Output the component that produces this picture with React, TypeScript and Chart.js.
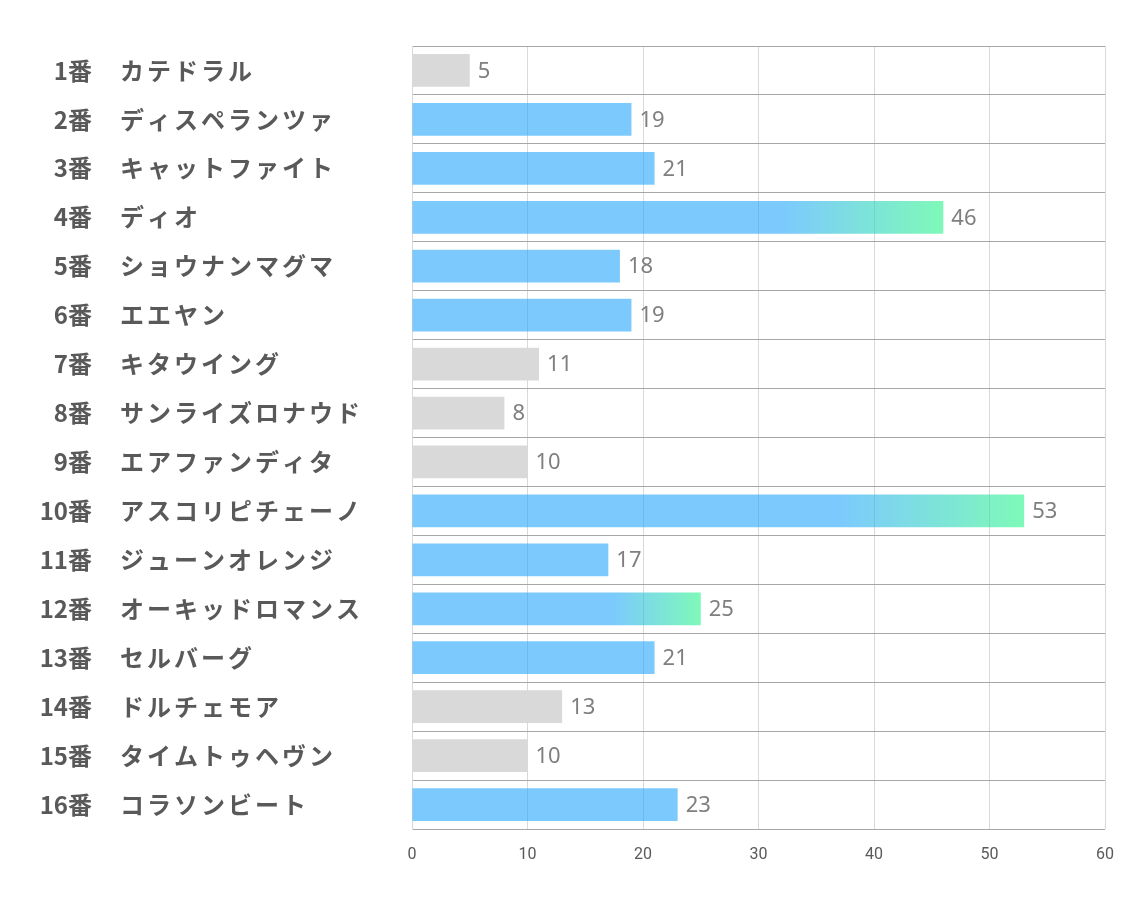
import React, { useEffect, useRef } from "react";
import { Chart, registerables } from "chart.js";

Chart.register(...registerables);

const horseNumbers = [1, 2, 3, 4, 5, 6, 7, 8, 9, 10, 11, 12, 13, 14, 15, 16];
const horseNames = [
  "カテドラル",
  "ディスペランツァ",
  "キャットファイト",
  "ディオ",
  "ショウナンマグマ",
  "エエヤン",
  "キタウイング",
  "サンライズロナウド",
  "エアファンディタ",
  "アスコリピチェーノ",
  "ジューンオレンジ",
  "オーキッドロマンス",
  "セルバーグ",
  "ドルチェモア",
  "タイムトゥヘヴン",
  "コラソンビート",
];
const scores = [5, 19, 21, 46, 18, 19, 11, 8, 10, 53, 17, 25, 21, 13, 10, 23];
const xTicks = [0, 10, 20, 30, 40, 50, 60];

const GRAY = "#d9d9d9";
const BLUE = "rgba(37,167,252,0.6)";
const GREEN = "rgba(40,245,138,0.6)";

export default function App() {
  const ref = useRef<HTMLCanvasElement | null>(null);
  useEffect(() => {
    const canvas = ref.current!;
    const labelsPlugin = {
      id: "labelsPlugin",
      afterDraw(chart: any) {
        const ctx = chart.ctx;
        const ys = chart.scales.y;
        const xs = chart.scales.x;
        ctx.save();
        ctx.textBaseline = "middle";
        scores.forEach((v, i) => {
          const y = ys.getPixelForValue(i);
          ctx.font = 'bold 24px "Noto Sans CJK JP"';
          ctx.fillStyle = "#595959";
          (ctx as any).letterSpacing = "0px";
          ctx.textAlign = "right";
          ctx.fillText(horseNumbers[i] + "番", 84, y);
          (ctx as any).letterSpacing = "3px";
          ctx.textAlign = "left";
          ctx.fillText(horseNames[i], 112, y);
          (ctx as any).letterSpacing = "0px";
          ctx.font = '22px "Noto Sans"';
          ctx.fillStyle = "#7f7f7f";
          ctx.fillText(String(v), xs.getPixelForValue(v) + 8, y + 1);
        });
        ctx.font = '16px Roboto';
        ctx.fillStyle = "#595959";
        ctx.textAlign = "center";
        xTicks.forEach((t) => {
          ctx.fillText(String(t), xs.getPixelForValue(t), chart.chartArea.bottom + 26);
        });
        ctx.restore();
      },
    };
    const chart = new Chart(canvas, {
      type: "bar",
      data: {
        labels: horseNames,
        datasets: [
          {
            data: scores,
            backgroundColor: (c: any) => {
              const v = scores[c.dataIndex];
              if (v === undefined) return BLUE;
              if (v < 15) return GRAY;
              if (v < 25) return BLUE;
              const chart = c.chart;
              const xs = chart.scales.x;
              if (!xs) return BLUE;
              const x0 = xs.getPixelForValue(0);
              const x1 = xs.getPixelForValue(v);
              const g = chart.ctx.createLinearGradient(x0, 0, x1, 0);
              g.addColorStop(0, BLUE);
              g.addColorStop(0.7, BLUE);
              g.addColorStop(1, GREEN);
              return g;
            },
            borderWidth: 0,
            categoryPercentage: 1,
            barPercentage: 0.67,
          },
        ],
      },
      options: {
        indexAxis: "y",
        animation: false,
        responsive: true,
        maintainAspectRatio: false,
        layout: { padding: { left: 404, top: 38, right: 21, bottom: 70 } },
        plugins: { legend: { display: false }, tooltip: { enabled: false } },
        scales: {
          x: {
            min: 0,
            max: 60,
            afterBuildTicks: (s: any) => {
              s.ticks = xTicks.map((v) => ({ value: v }));
            },
            grid: { color: "#d9d9d9", drawTicks: false },
            border: { display: false },
            ticks: { display: false },
          },
          y: {
            grid: { offset: true, color: "#a6a6a6", drawTicks: false },
            border: { color: "#d9d9d9" },
            ticks: { display: false },
          },
        },
      },
      plugins: [labelsPlugin],
    });
    return () => chart.destroy();
  }, []);
  return (
    <div style={{ width: 1118, height: 891, position: "relative" }}>
      <canvas ref={ref} />
    </div>
  );
}
